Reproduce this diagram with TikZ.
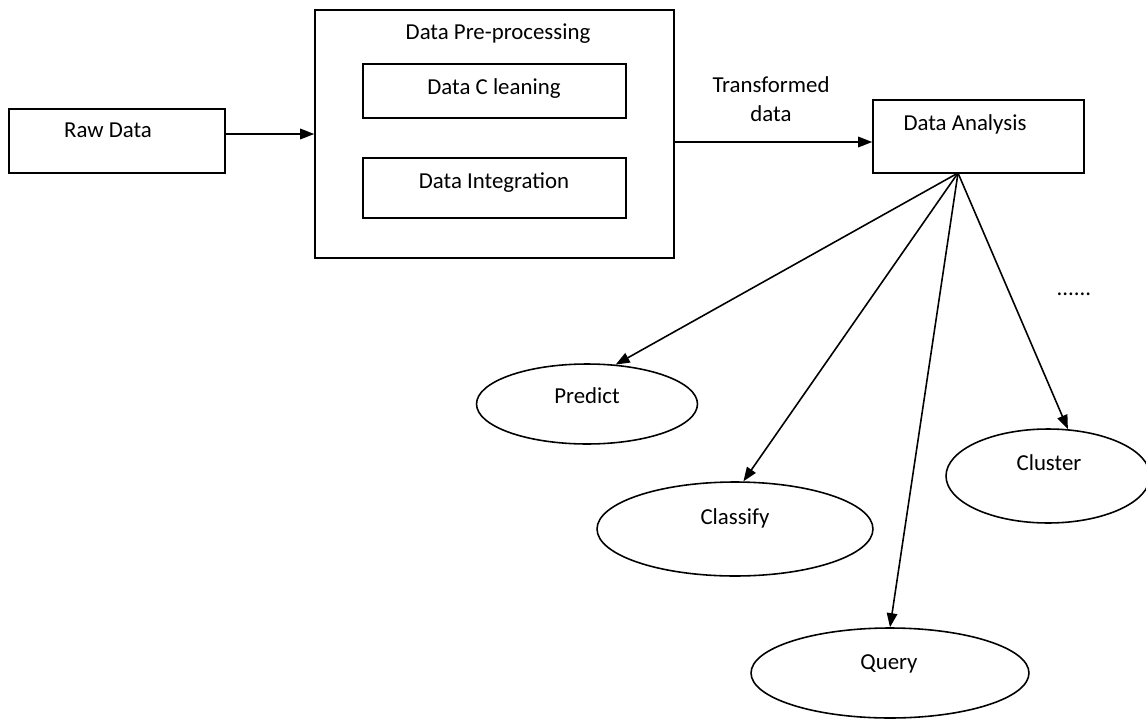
\documentclass[tikz,border=0pt]{standalone}
\usepackage{fontspec}
\setmainfont{Carlito}
\usepackage{tikz}
\usetikzlibrary{positioning,arrows.meta,shapes.geometric,calc}

\begin{document}
\begin{tikzpicture}[x=0.02cm,y=-0.02cm,
  font=\fontsize{13}{16.4}\selectfont,
  box/.style={draw,line width=.9pt,rectangle,inner sep=0pt},
  oval/.style={draw,line width=.9pt,ellipse,inner sep=0pt},
  lbl/.style={inner sep=0pt,text height=1.5ex,text depth=.25ex},
  arr/.style={-{Triangle[length=8pt,width=6pt]},line width=.9pt}]
\useasboundingbox (0,0) rectangle (1146,720);

\node[box,minimum width=4.32cm,minimum height=1.28cm] (raw) at (117,141) {};
\node[lbl] (rawtext) at (108,132.5) {Raw Data};

\node[box,minimum width=7.18cm,minimum height=4.96cm] (pre) at (494.5,134) {};
\node[lbl] (pretext) at (498,34.5) {Data Pre-processing};
\node[box,minimum width=5.26cm,minimum height=1.08cm] (clean) at (494.5,91) {};
\node[lbl] (cleantext) at (494,89.5) {Data C leaning};
\node[box,minimum width=5.26cm,minimum height=1.2cm] (integ) at (494.5,188) {};
\node[lbl] (integtext) at (494,183.5) {Data Integration};

\node[align=center] (trans) at (771,99) {Transformed\\data};

\node[box,minimum width=4.22cm,minimum height=1.46cm] (ana) at (978.5,136.5) {};
\node[lbl] (anatext) at (965,125.5) {Data Analysis};

\node[oval,minimum width=4.42cm,minimum height=1.6cm] (pred) at (587,404) {};
\node[lbl] (predtext) at (587,398.5) {Predict};
\node[oval,minimum width=5.52cm,minimum height=1.88cm] (clas) at (735,529) {};
\node[lbl] (clastext) at (735,519.5) {Classify};
\node[oval,minimum width=5.56cm,minimum height=1.8cm] (query) at (890,673) {};
\node[lbl] (querytext) at (889,664.5) {Query};
\node[oval,minimum width=4.08cm,minimum height=1.88cm] (clus) at (1048,476) {};
\node[lbl] (clustext) at (1049,465.5) {Cluster};

\node[inner sep=0pt] (dots) at (1074,294) {......};

\coordinate (fan) at (958,173);

\draw[arr] (raw.east |- pre.west) -- (pre.west);
\draw[arr] ($(pre.east)+(0,8)$) -- ($(ana.west)+(0,5.5)$);

\draw[arr] (fan) -- (pred.54);
\draw[arr] (fan) -- (clas.80);
\draw[arr] (fan) -- (query.north);
\draw[arr] (fan) -- (clus.67);
\end{tikzpicture}
\end{document}
